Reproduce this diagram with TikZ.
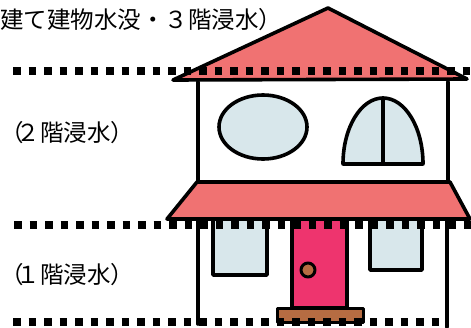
\documentclass[tikz,border=0pt]{standalone}
\usepackage{fontspec}
\newfontfamily\jpfont{Noto Sans CJK JP}
\definecolor{roofred}{RGB}{240,114,114}
\definecolor{glass}{RGB}{216,231,235}
\definecolor{doorpink}{RGB}{238,52,110}
\definecolor{wood}{RGB}{182,108,66}
\tikzset{
  outline/.style={draw=black, line width=3.6pt, line join=round, line cap=round},
  level/.style={line width=7.5pt, dash pattern=on 7.5pt off 8pt},
  label/.style={anchor=west, inner sep=0pt, font=\jpfont\fontsize{23.5}{24}\selectfont}
}
\begin{document}
\begin{tikzpicture}[x=1pt, y=-1pt]
\useasboundingbox (0,0) rectangle (471,327);

% main roof
\filldraw[outline, fill=roofred] (173,80) -- (328,8) -- (467,79) -- cycle;

% upper storey walls
\draw[outline] (198,82) -- (198,182);
\draw[outline] (448,82) -- (448,182);

% oval window
\filldraw[outline, fill=glass] (263,127) ellipse [x radius=44, y radius=32];

% arched window with mullion
\filldraw[outline, fill=glass] (343,164) arc[start angle=180, end angle=360, x radius=40, y radius=66] -- cycle;
\draw[outline] (383,98) -- (383,164);

% ground floor walls
\draw[outline] (198,216) -- (198,324);
\draw[outline] (447,216) -- (447,327);

% ground floor windows
\filldraw[outline, fill=glass] (213,216) -- (213,275) -- (267,275) -- (267,216);
\filldraw[outline, fill=glass] (370,216) -- (370,270) -- (422,270) -- (422,216);

% door and knob
\filldraw[outline, fill=doorpink] (292,216) -- (292,308) -- (347,308) -- (347,216);
\filldraw[outline, line width=3pt, fill=wood] (308,270) circle[radius=7];

% door step
\filldraw[outline, line width=3pt, fill=wood] (277,308) rectangle (363,322);

% awning over the ground floor
\filldraw[outline, fill=roofred] (197,182) -- (450,182) -- (470,219) -- (167,219) -- cycle;

% flood level lines
\draw[level] (13,71) coordinate (l3a) -- (471,71) coordinate (l3b);
\draw[level] (14,225) coordinate (l2a) -- (471,225) coordinate (l2b);
\draw[level] (13,322) coordinate (l1a) -- (449,322) coordinate (l1b);

% level captions
\node[label] (cap3) at (0,20) {建て建物水没・３階浸水）};
\node[label] (cap2) at (0,133) {（\kern-7pt２階浸水）};
\node[label] (cap1) at (0,275) {（\kern-7pt１階浸水）};
\end{tikzpicture}
\end{document}
